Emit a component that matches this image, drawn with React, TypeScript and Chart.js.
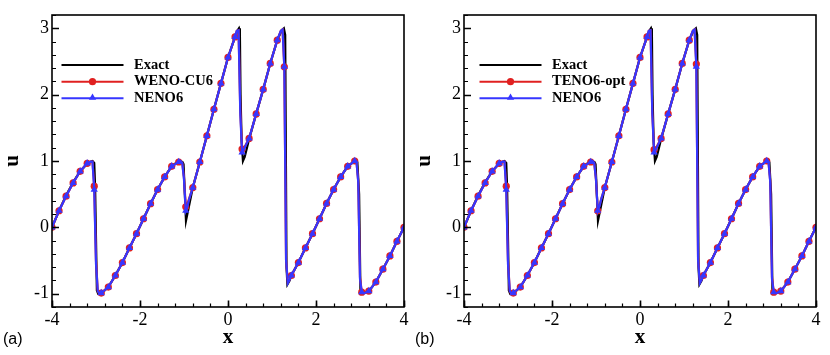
import React, { useEffect, useRef } from 'react';
import { Chart, registerables } from 'chart.js';

Chart.register(...registerables);

// ---------- data ----------
const markerX = [
  -4, -3.84, -3.68, -3.52, -3.36, -3.2, -3.04, -2.88, -2.72, -2.56, -2.4, -2.24, -2.08,
  -1.92, -1.76, -1.6, -1.44, -1.28, -1.12, -0.96, -0.8, -0.64, -0.48, -0.32, -0.16, 0,
  0.16, 0.32, 0.48, 0.64, 0.8, 0.96, 1.12, 1.28, 1.44, 1.6, 1.76, 1.92, 2.08, 2.24, 2.4,
  2.56, 2.72, 2.88, 3.04, 3.2, 3.36, 3.52, 3.68, 3.84, 4,
];

const wenoCU6U = [
  0.0, 0.25, 0.47, 0.67, 0.845, 0.965, 0.62, -0.99, -0.9, -0.725, -0.53, -0.31, -0.095,
  0.13, 0.357, 0.57, 0.76, 0.92, 0.985, 0.31, 0.6, 0.985, 1.38, 1.78, 2.17, 2.56,
  2.87, 1.18, 1.34, 1.71, 2.08, 2.47, 2.82, 2.42, -0.725, -0.53, -0.31, -0.095, 0.13, 0.36, 0.57,
  0.76, 0.92, 1.0, -0.976, -0.96, -0.825, -0.63, -0.43, -0.21, 0.0,
];

const teno6optU = [
  0.0, 0.25, 0.47, 0.67, 0.845, 0.965, 0.62, -0.99, -0.9, -0.725, -0.53, -0.31, -0.095,
  0.13, 0.357, 0.57, 0.76, 0.92, 0.985, 0.25, 0.6, 0.985, 1.38, 1.78, 2.17, 2.56,
  2.87, 1.17, 1.34, 1.71, 2.08, 2.47, 2.82, 2.46, -0.725, -0.53, -0.31, -0.095, 0.13, 0.36, 0.57,
  0.76, 0.92, 1.0, -0.976, -0.96, -0.825, -0.63, -0.43, -0.21, 0.0,
];

const neno6U = [
  0.0, 0.25, 0.47, 0.67, 0.845, 0.965, 0.57, -0.99, -0.9, -0.725, -0.53, -0.31, -0.095,
  0.13, 0.357, 0.57, 0.76, 0.92, 0.985, 0.25, 0.6, 0.985, 1.38, 1.78, 2.17, 2.56,
  2.87, 1.13, 1.34, 1.71, 2.08, 2.47, 2.82, 2.42, -0.725, -0.53, -0.31, -0.095, 0.13, 0.36, 0.57,
  0.76, 0.92, 1.0, -0.976, -0.96, -0.825, -0.63, -0.43, -0.21, 0.0,
];

// extra grid points of the numerical solutions around the discontinuities
const shockX = [
  -3.12, -3.08, -3.0, -2.96, -2.92, -1.08, -1.04, -1.0, -0.92, -0.88, 0.2, 0.24, 0.28,
  0.36, 0.4, 1.2, 1.24, 1.32, 1.36, 1.4, 2.92, 2.96, 3.0, 3.08, 3.12,
];
const wenoCU6ShockU = [
  0.99, 0.99, -0.5, -0.96, -1.0, 1.0, 0.97, 0.75, 0.36, 0.44, 2.96, 2.97, 1.75,
  1.2, 1.24, 2.96, 2.98, -0.5, -0.83, -0.79, 0.99, 0.7, -0.75, -0.99, -0.985,
];
const teno6optShockU = [
  0.99, 0.99, -0.5, -0.96, -1.0, 1.0, 0.97, 0.72, 0.33, 0.43, 2.96, 2.97, 1.72,
  1.19, 1.24, 2.96, 2.98, -0.45, -0.83, -0.79, 0.99, 0.7, -0.75, -0.99, -0.985,
];
const neno6ShockU = [
  0.99, 0.99, -0.55, -0.96, -1.0, 1.0, 0.97, 0.72, 0.32, 0.43, 2.96, 2.97, 1.7,
  1.17, 1.23, 2.96, 2.98, -0.5, -0.84, -0.79, 0.99, 0.68, -0.78, -0.99, -0.985,
];

const exactX = [
  -4, -3.84, -3.68, -3.52, -3.36, -3.2, -3.12, -3.08, -3.04, -3.02, -2.98, -2.95, -2.88,
  -2.72, -2.56, -2.4, -2.24, -2.08, -1.92, -1.76, -1.6, -1.44, -1.28, -1.16, -1.08, -1.03,
  -1.01, -0.955, -0.8, -0.64, -0.48, -0.32, -0.16, 0, 0.16, 0.22, 0.25, 0.27, 0.285, 0.31,
  0.34, 0.38, 0.48, 0.64, 0.8, 0.96, 1.12, 1.22, 1.27, 1.3, 1.33, 1.35, 1.4, 1.44, 1.6,
  1.76, 1.92, 2.08, 2.24, 2.4, 2.56, 2.72, 2.86, 2.91, 2.94, 2.98, 3.01, 3.04, 3.2, 3.36,
  3.52, 3.68, 3.84, 4,
];
const exactU = [
  0, 0.25, 0.48, 0.68, 0.845, 0.96, 0.99, 1.0, 0.97, 0.6, -0.95, -1.0, -0.995,
  -0.9, -0.725, -0.53, -0.31, -0.095, 0.13, 0.357, 0.57, 0.76, 0.92, 0.98, 1.0, 0.98,
  0.95, 0.1, 0.6, 0.985, 1.38, 1.78, 2.17, 2.56, 2.87, 2.97, 3.0, 2.95, 2.0, 1.3,
  1.0, 1.06, 1.33, 1.71, 2.08, 2.47, 2.82, 2.97, 3.0, 2.9, -0.6, -0.86, -0.8, -0.725, -0.53,
  -0.31, -0.095, 0.13, 0.36, 0.57, 0.76, 0.92, 0.99, 1.0, 0.98, 0.5, -0.95, -1.0, -0.96, -0.825,
  -0.63, -0.43, -0.21, 0,
];

const xTicks = [-4, -2, 0, 2, 4];
const yTicks = [-1, 0, 1, 2, 3];
const xMinorStep = 0.4;
const yMinorStep = 0.2;

// ---------- styling ----------
const RED = '#e02020';
const BLUE = '#3636ff';
const SERIF = "'Liberation Serif', 'Times New Roman', serif";
const SANS = "'Liberation Sans', Arial, sans-serif";

type Panel = {
  tag: string;
  redName: string;
  redU: number[];
  redShockU: number[];
  legendLineX0: number;
  legendLineX1: number;
  legendTextX: number;
};

const panels: Panel[] = [
  { tag: '(a)', redName: 'WENO-CU6', redU: wenoCU6U, redShockU: wenoCU6ShockU, legendLineX0: 61.5, legendLineX1: 123.5, legendTextX: 134 },
  { tag: '(b)', redName: 'TENO6-opt', redU: teno6optU, redShockU: teno6optShockU, legendLineX0: 67.5, legendLineX1: 129.5, legendTextX: 140 },
];

function pts(xs: number[], us: number[]) {
  return xs.map((x, i) => ({ x, y: us[i] }));
}
function buildLine(xs: number[], us: number[], sx: number[], su: number[]) {
  const p = pts(xs, us).concat(pts(sx, su));
  p.sort((a, b) => a.x - b.x);
  return p;
}

function drawTriangle(ctx: CanvasRenderingContext2D, x: number, y: number, r: number) {
  ctx.beginPath();
  let rad = 0;
  for (let i = 0; i < 3; i++) {
    const px = x + Math.sin(rad) * r;
    const py = y - Math.cos(rad) * r;
    if (i === 0) ctx.moveTo(px, py); else ctx.lineTo(px, py);
    rad += (2 * Math.PI) / 3;
  }
  ctx.closePath();
  ctx.fill();
}

function makePlugin(panel: Panel) {
  return {
    id: 'frameAndLegend',
    afterDraw(chart: any) {
      const ctx: CanvasRenderingContext2D = chart.ctx;
      const { left, right, top, bottom } = chart.chartArea;
      const xs = chart.scales.x;
      const ys = chart.scales.y;
      ctx.save();
      // box
      ctx.strokeStyle = '#000';
      ctx.lineWidth = 1.6;
      ctx.strokeRect(left, top, right - left, bottom - top);
      // ticks (inward)
      ctx.lineWidth = 1.2;
      ctx.beginPath();
      for (let v = xs.min; v <= xs.max + 1e-9; v += xMinorStep) {
        const px = Math.round(xs.getPixelForValue(v)) + 0.5;
        ctx.moveTo(px, bottom);
        ctx.lineTo(px, bottom - 3.5);
      }
      for (let v = ys.min; v <= ys.max + 1e-9; v += yMinorStep) {
        const py = Math.round(ys.getPixelForValue(v)) + 0.5;
        ctx.moveTo(left, py);
        ctx.lineTo(left + 4, py);
      }
      ctx.stroke();
      ctx.lineWidth = 1.6;
      ctx.beginPath();
      xTicks.forEach((v) => {
        const px = Math.round(xs.getPixelForValue(v)) + 0.5;
        ctx.moveTo(px, bottom);
        ctx.lineTo(px, bottom - 6.5);
      });
      yTicks.forEach((v) => {
        const py = Math.round(ys.getPixelForValue(v)) + 0.5;
        ctx.moveTo(left, py);
        ctx.lineTo(left + 7, py);
      });
      ctx.stroke();

      // legend
      const rows = [
        { name: 'Exact', color: '#000', marker: '' },
        { name: panel.redName, color: RED, marker: 'circle' },
        { name: 'NENO6', color: BLUE, marker: 'triangle' },
      ];
      const rowY = [65, 81.7, 98.2];
      rows.forEach((r, i) => {
        const y = rowY[i];
        ctx.strokeStyle = r.color;
        ctx.lineWidth = 2;
        ctx.beginPath();
        ctx.moveTo(panel.legendLineX0, y);
        ctx.lineTo(panel.legendLineX1, y);
        ctx.stroke();
        const mx = (panel.legendLineX0 + panel.legendLineX1) / 2;
        ctx.fillStyle = r.color;
        if (r.marker === 'circle') {
          ctx.beginPath();
          ctx.arc(mx, y, 3.6, 0, Math.PI * 2);
          ctx.fill();
        } else if (r.marker === 'triangle') {
          drawTriangle(ctx, mx, y - 0.5, 4.2);
        }
        ctx.fillStyle = '#000';
        ctx.font = `bold 14.5px ${SERIF}`;
        ctx.textAlign = 'left';
        ctx.textBaseline = 'middle';
        ctx.fillText(r.name, panel.legendTextX, y);
      });

      // panel tag
      ctx.fillStyle = '#000';
      ctx.font = `16px ${SANS}`;
      ctx.textAlign = 'left';
      ctx.textBaseline = 'alphabetic';
      ctx.fillText(panel.tag, 3, 344);
      ctx.restore();
    },
  };
}

function PanelChart({ panel, left }: { panel: Panel; left: number }) {
  const ref = useRef<HTMLCanvasElement>(null);
  useEffect(() => {
    if (!ref.current) return;
    const redLine = buildLine(markerX, panel.redU, shockX, panel.redShockU);
    const blueLine = buildLine(markerX, neno6U, shockX, neno6ShockU);
    const chart = new Chart(ref.current, {
      type: 'scatter',
      data: {
        datasets: [
          {
            label: 'NENO6 markers',
            data: pts(markerX, neno6U),
            showLine: false,
            pointStyle: 'triangle',
            pointRadius: 4.2,
            pointBorderWidth: 0,
            backgroundColor: BLUE,
            borderColor: BLUE,
            order: 0,
          },
          {
            label: 'NENO6',
            data: blueLine,
            showLine: true,
            pointRadius: 0,
            borderColor: BLUE,
            borderWidth: 2.2,
            order: 1,
          },
          {
            label: panel.redName + ' markers',
            data: pts(markerX, panel.redU),
            showLine: false,
            pointStyle: 'circle',
            pointRadius: 3.6,
            pointBorderWidth: 0,
            backgroundColor: RED,
            borderColor: RED,
            order: 2,
          },
          {
            label: panel.redName,
            data: redLine,
            showLine: true,
            pointRadius: 0,
            borderColor: RED,
            borderWidth: 2.2,
            order: 3,
          },
          {
            label: 'Exact',
            data: pts(exactX, exactU),
            showLine: true,
            pointRadius: 0,
            borderColor: '#000',
            borderWidth: 2.2,
            order: 4,
          },
        ],
      } as any,
      options: {
        animation: false,
        responsive: false,
        maintainAspectRatio: false,
        events: [],
        elements: { line: { tension: 0 } },
        layout: { padding: { top: 15, right: 11, left: 0, bottom: 0 } },
        plugins: { legend: { display: false }, tooltip: { enabled: false } },
        scales: {
          x: {
            type: 'linear',
            min: -4,
            max: 4,
            grid: { display: false, drawTicks: false },
            border: { display: false },
            ticks: {
              color: '#000',
              font: { family: SERIF, size: 18, weight: 'normal' },
              padding: 2,
              maxRotation: 0,
              autoSkip: false,
            },
            afterBuildTicks: (s: any) => {
              s.ticks = xTicks.map((v) => ({ value: v }));
            },
            afterFit: (s: any) => {
              s.height = 48;
            },
            title: {
              display: true,
              text: 'x',
              color: '#000',
              font: { family: SERIF, size: 21, weight: 'bold' },
              padding: { top: 0, bottom: 5 },
            },
          },
          y: {
            type: 'linear',
            min: -1.2,
            max: 3.2,
            grid: { display: false, drawTicks: false },
            border: { display: false },
            ticks: {
              color: '#000',
              font: { family: SERIF, size: 18, weight: 'normal' },
              padding: 3,
              autoSkip: false,
            },
            afterBuildTicks: (s: any) => {
              s.ticks = yTicks.map((v) => ({ value: v }));
            },
            afterFit: (s: any) => {
              s.width = 52;
            },
            title: {
              display: true,
              text: 'u',
              color: '#000',
              font: { family: SERIF, size: 21, weight: 'bold' },
              padding: { top: 0, bottom: 0 },
            },
          },
        },
      } as any,
      plugins: [makePlugin(panel)],
    });
    return () => chart.destroy();
  }, [panel]);
  return (
    <canvas
      ref={ref}
      width={415}
      height={355}
      style={{ position: 'absolute', left, top: 0, width: 415, height: 355, display: 'block' }}
    />
  );
}

export default function App() {
  return (
    <div style={{ position: 'fixed', left: 0, top: 0, width: 830, height: 355, background: '#fff', overflow: 'hidden' }}>
      <PanelChart panel={panels[0]} left={0} />
      <PanelChart panel={panels[1]} left={412} />
    </div>
  );
}
